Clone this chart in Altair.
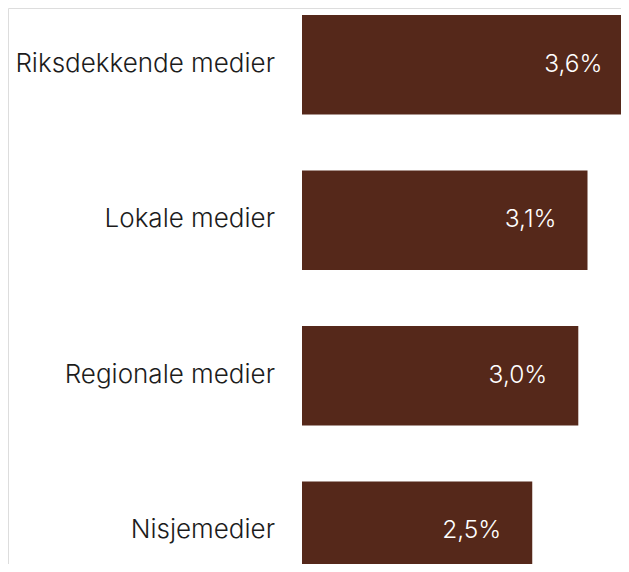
import altair as alt
import pandas as pd

categories = ["Riksdekkende medier", "Lokale medier", "Regionale medier", "Nisjemedier"]
values = [3.6, 3.1, 3.0, 2.5]
value_labels = ["3,6%", "3,1%", "3,0%", "2,5%"]

df = pd.DataFrame({"kategori": categories, "verdi": values, "etikett": value_labels})

FONT = "Inter"
BAR = "#55281a"
PX_PER_UNIT = 92.1
LEFT = 294
PLOT_W = 613
PLOT_H = 556

y_scale = alt.Scale(
    domain=categories,
    paddingInner=0.36,
    paddingOuter=0.045,
    range=[0, 580],
)

y_enc = alt.Y("kategori:N", sort=categories, title=None, scale=y_scale, axis=None)
x_scale = alt.Scale(
    domain=[0, 3.6], range=[LEFT, LEFT + 3.6 * PX_PER_UNIT], nice=False, zero=True
)
x_enc = alt.X("verdi:Q", title=None, scale=x_scale, axis=None)

bars = alt.Chart(df).mark_bar(color=BAR, cornerRadius=0, strokeWidth=0).encode(
    y=y_enc, x=x_enc
)

text = alt.Chart(df).mark_text(
    align="right",
    baseline="middle",
    dx=-31,
    color="white",
    fontSize=24.5,
    fontWeight=300,
    font=FONT,
).encode(y=y_enc, x=x_enc, text="etikett:N")

cat_labels = alt.Chart(df).mark_text(
    align="right",
    baseline="middle",
    dx=-27,
    dy=-1,
    color="#1c1c1c",
    fontSize=26,
    fontWeight=300,
    font=FONT,
).encode(y=y_enc, x=alt.value(LEFT), text="kategori:N")

chart = (
    alt.layer(bars, text, cat_labels)
    .properties(
        width=PLOT_W,
        height=PLOT_H,
        autosize=alt.AutoSizeParams(type="none"),
        padding={"left": 0, "top": 0, "right": 0, "bottom": 0},
    )
    .configure_view(strokeWidth=0, stroke="white", fill="white")
    .configure_axis(disable=True)
    .configure(background="white")
)

chart.save("out.html", embed_options={"renderer": "svg", "actions": False})
